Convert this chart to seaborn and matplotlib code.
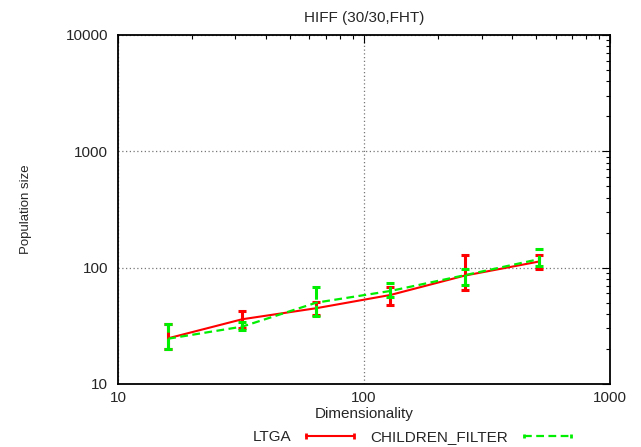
import matplotlib.pyplot as plt
import numpy as np
import pandas as pd
import seaborn as sns
from matplotlib.ticker import LogLocator, NullFormatter

dims = [16, 32, 64, 128, 256, 512]

ltga_mean = [24.7, 36.0, 44.8, 58.2, 85.3, 112.6]
ltga_low = [19.9, 30.1, 39.2, 47.8, 64.3, 96.8]
ltga_high = [32.8, 42.7, 51.0, 67.8, 128.5, 128.0]

cf_mean = [24.5, 31.1, 50.0, 63.0, 86.0, 118.0]
cf_low = [20.0, 29.0, 38.4, 56.0, 71.0, 103.0]
cf_high = [33.0, 34.3, 68.7, 73.5, 96.8, 145.0]

algos = ["LTGA", "CHILDREN_FILTER"]

df = pd.DataFrame({
    "dim": dims * 2,
    "mean": ltga_mean + cf_mean,
    "low": ltga_low + cf_low,
    "high": ltga_high + cf_high,
    "algo": [algos[0]] * 6 + [algos[1]] * 6,
})

sns.set_style("white")
plt.rcParams["font.family"] = ["Liberation Sans", "DejaVu Sans"]
FS = 11

fig = plt.figure(figsize=(6.41, 4.47), dpi=100)
ax = fig.add_axes([0.184, 0.141, 0.768, 0.781])

styles = {
    "LTGA": dict(color="#ff0000", ls="-", lw=1.5, zorder=3),
    "CHILDREN_FILTER": dict(color="#00ee00", ls=(0, (3.5, 2)), lw=1.6, zorder=4),
}

sns.lineplot(data=df, x="dim", y="mean", hue="algo", hue_order=algos,
             palette={k: v["color"] for k, v in styles.items()},
             ax=ax, legend=False, estimator=None)
for line, name in zip(ax.get_lines(), algos):
    line.set_linestyle(styles[name]["ls"])
    line.set_linewidth(styles[name]["lw"])
    line.set_zorder(styles[name]["zorder"])

# error bars + legend handles with end caps
handles = []
for name in algos:
    sub = df[df["algo"] == name]
    st = styles[name]
    yerr = np.vstack([sub["mean"] - sub["low"], sub["high"] - sub["mean"]])
    eb = ax.errorbar(sub["dim"], sub["mean"], yerr=yerr, fmt="none",
                     ecolor=st["color"], elinewidth=2.2, capsize=2.8,
                     capthick=2.2, zorder=st["zorder"])
    eb[2][0].set_linestyle(st["ls"])
    h, = ax.plot([], [], color=st["color"], ls=st["ls"], lw=st["lw"],
                 marker="|", markersize=5 if name == "LTGA" else 3,
                 markeredgewidth=2)
    handles.append(h)

ax.set_xscale("log")
ax.set_yscale("log")
ax.set_xlim(10, 1000)
ax.set_ylim(10, 10000)

ax.xaxis.set_minor_locator(LogLocator(base=10, subs=np.arange(2, 10)))
ax.yaxis.set_minor_locator(LogLocator(base=10, subs=np.arange(2, 10)))
ax.xaxis.set_minor_formatter(NullFormatter())
ax.yaxis.set_minor_formatter(NullFormatter())
ax.set_xticks([10, 100, 1000])
ax.set_xticklabels(["10", "100", "1000"])
ax.set_yticks([10, 100, 1000, 10000])
ax.set_yticklabels(["10", "100", "1000", "10000"])

ax.tick_params(which="both", direction="in", top=True, right=True,
               labelsize=FS, color="black")
ax.tick_params(which="major", length=6, width=0.8)
ax.tick_params(which="minor", length=3, width=0.8)
ax.tick_params(axis="y", which="major", pad=7)
ax.tick_params(axis="x", which="major", pad=5)

ax.grid(True, which="major", color="#777777", ls=(0, (1, 2)), lw=0.9)
for spine in ax.spines.values():
    spine.set_color("black")
    spine.set_linewidth(1.3)

ax.set_title("HIFF (30/30,FHT)", fontsize=FS, pad=9)
ax.set_xlabel("Dimensionality", fontsize=FS)
ax.xaxis.set_label_coords(0.5, -0.066)
ax.set_ylabel("Population size", fontsize=9.5)
ax.yaxis.set_label_coords(-0.175, 0.5)

fig.legend(handles, algos, loc="center",
           bbox_to_anchor=(0.646, 0.022), ncol=2, frameon=False,
           markerfirst=False, numpoints=2, fontsize=FS, handlelength=3.7,
           columnspacing=0.8, handletextpad=0.7, borderpad=0)

fig.savefig("out.png", dpi=100)
